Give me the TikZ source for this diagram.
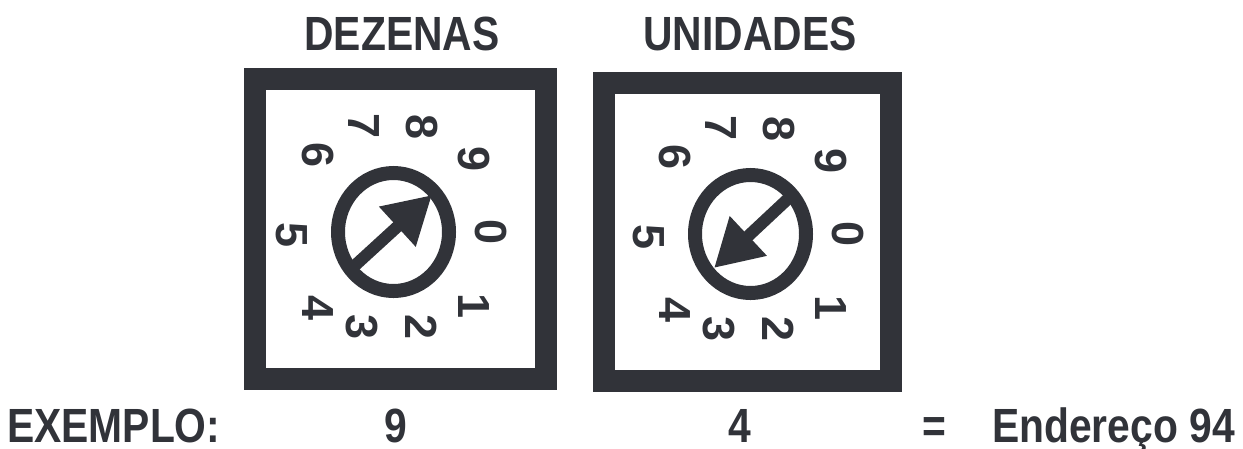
\documentclass[tikz,border=0pt]{standalone}
\usepackage{fontspec}
\setmainfont{Liberation Sans}
\newfontfamily\narrowfont[FakeStretch=0.85]{Liberation Sans}
\usetikzlibrary{shapes,arrows.meta,calc}
\definecolor{ink}{RGB}{49,51,57}
\tikzstyle{casing} = [draw=ink, line width=22pt, rectangle, inner sep=0pt]
\tikzstyle{knob} = [draw=ink, line width=14pt, ellipse, inner sep=0pt,
    minimum width=111pt, minimum height=118pt]
\tikzstyle{digit} = [text=ink, font=\fontsize{45}{50}\selectfont\bfseries,
    rotate=-90, inner sep=0pt]
\tikzstyle{heading} = [text=ink, font=\fontsize{48}{56}\selectfont\narrowfont\bfseries,
    anchor=base, inner sep=0pt]
\tikzstyle{needle} = [draw=ink, line width=12pt, -{Triangle[length=47pt,width=51pt]}]

\begin{document}
\begin{tikzpicture}[x=1pt,y=-1pt]
\useasboundingbox (0,0) rectangle (1243,448);
 \coordinate (D) at (400.5,229);
 \coordinate (U) at (747.5,232);
\coordinate (tailD) at (350,270);
\coordinate (tipD) at (432,195);
\coordinate (tailU) at (791,196);
\coordinate (tipU) at (714,268);

\node[casing, minimum width=291pt, minimum height=300pt, name=boxD] at (D) {};
\node[casing, minimum width=287pt, minimum height=298pt, name=boxU] at (U) {};
\node[knob, name=dialD] at (393.5,232) {};
\node[knob, name=dialU] at (750.5,234) {};

\draw[needle] (tailD) -- (tipD);
\draw[needle] (tailU) -- (tipU);

% digits round each dial
\foreach \dial in {dialD,dialU}
  \foreach \n/\dx/\dy in {0/97/0, 1/80/74, 2/28/95, 3/-32/95, 4/-76/76,
      5/-102/3, 6/-76/-77, 7/-30/-106, 8/28/-105, 9/80/-73}
    \node[digit, name=\dial-\n] at ($(\dial)+(\dx,\dy)$) {\n};

\node[heading, name=dez] at (402,50) {DEZENAS};
\node[heading, name=uni] at (750,50) {UNIDADES};
\node[heading, anchor=base west, name=ex] at (7,442) {EXEMPLO:};
\node[heading, name=valD] at (396,442) {9};
\node[heading, name=valU] at (740,442) {4};
\node[heading, name=eq] at (934,442) {=};
\node[heading, anchor=base west, name=addr] at (992,442) {Endereço 94};

\end{tikzpicture}
\end{document}
